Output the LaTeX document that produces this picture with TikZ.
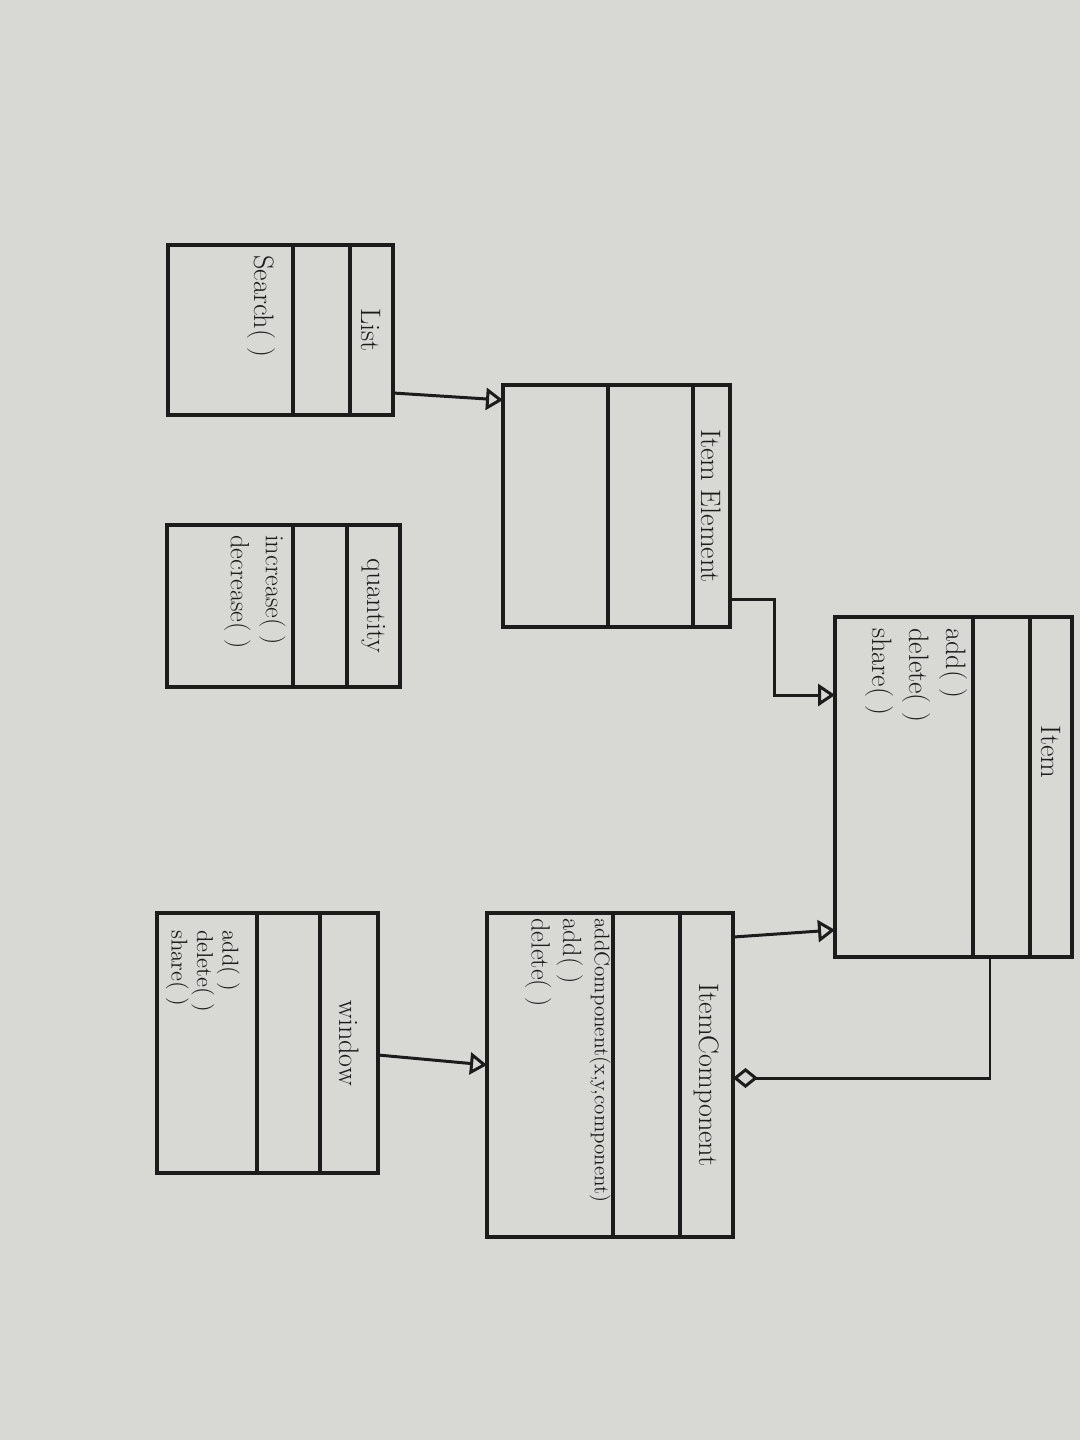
\documentclass[tikz,border=0pt]{standalone}
\usepackage{tikz}
\usetikzlibrary{arrows.meta}
\definecolor{paper}{RGB}{216,216,213}
\definecolor{ink}{RGB}{28,28,28}

\begin{document}
\begin{tikzpicture}[x=0.02cm, y=-0.02cm, color=ink,
  classbox/.style={rectangle, draw=ink, line width=1.8pt, inner sep=0pt, outer sep=0pt},
  title/.style={rotate=-90, text=ink, inner sep=0pt, font=\fontsize{16}{18}\selectfont},
  ops/.style={rotate=-90, text=ink, anchor=north west, align=left, inner sep=0pt, font=\fontsize{16}{21}\selectfont},
  gen/.style={-{Triangle[open, length=0.34cm, width=0.44cm]}, line width=1.7pt},
  agg/.style={{Diamond[open, length=0.5cm, width=0.4cm]}-, line width=1.7pt}]

	\fill[paper] (0,0) rectangle (1080,1440);
	\useasboundingbox (0,0) rectangle (1080,1440);

	% class boxes
	\node[classbox, minimum width=4.5cm, minimum height=3.4cm](List) at (280.5,330) {};
	\node[classbox, minimum width=4.66cm, minimum height=3.24cm](Quantity) at (283.5,606) {};
	\node[classbox, minimum width=4.54cm, minimum height=4.84cm](ItemElement) at (616.5,506) {};
	\node[classbox, minimum width=4.74cm, minimum height=6.8cm](Item) at (953.5,787) {};
	\node[classbox, minimum width=4.92cm, minimum height=6.48cm](ItemComponent) at (610,1075) {};
	\node[classbox, minimum width=4.42cm, minimum height=5.2cm](Window) at (267.5,1043) {};

	% compartments
	\draw[line width=1.8pt] ([xshift=2.5cm]List.north west) -- ([xshift=2.5cm]List.south west);
	\draw[line width=1.8pt] ([xshift=-0.86cm]List.north east) -- ([xshift=-0.86cm]List.south east);

	\draw[line width=1.8pt] ([xshift=2.52cm]Quantity.north west) -- ([xshift=2.52cm]Quantity.south west);
	\draw[line width=1.8pt] ([xshift=-1.06cm]Quantity.north east) -- ([xshift=-1.06cm]Quantity.south east);

	\draw[line width=1.8pt] ([xshift=2.1cm]ItemElement.north west) -- ([xshift=2.1cm]ItemElement.south west);
	\draw[line width=1.8pt] ([xshift=-0.74cm]ItemElement.north east) -- ([xshift=-0.74cm]ItemElement.south east);

	\draw[line width=1.8pt] ([xshift=2.76cm]Item.north west) -- ([xshift=2.76cm]Item.south west);
	\draw[line width=1.8pt] ([xshift=-0.84cm]Item.north east) -- ([xshift=-0.84cm]Item.south east);

	\draw[line width=1.8pt] ([xshift=2.52cm]ItemComponent.north west) -- ([xshift=2.52cm]ItemComponent.south west);
	\draw[line width=1.8pt] ([xshift=-1.06cm]ItemComponent.north east) -- ([xshift=-1.06cm]ItemComponent.south east);

	\draw[line width=1.8pt] ([xshift=2.0cm]Window.north west) -- ([xshift=2.0cm]Window.south west);
	\draw[line width=1.8pt] ([xshift=-1.16cm]Window.north east) -- ([xshift=-1.16cm]Window.south east);

	% class names
	\node[title](List-t) at ([xshift=-0.43cm]List.east) {List};
	\node[title](Quantity-t) at ([xshift=-0.53cm]Quantity.east) {quantity};
	\node[title](ItemElement-t) at ([xshift=-0.37cm]ItemElement.east) {Item Element};
	\node[title](Item-t) at ([xshift=-0.42cm, yshift=0.7cm]Item.east) {Item};
	\node[title](ItemComponent-t) at ([xshift=-0.53cm]ItemComponent.east) {ItemComponent};
	\node[title](Window-t) at ([xshift=-0.58cm]Window.east) {window};

	% operations
	\node[ops](List-m) at ([xshift=2.16cm, yshift=-0.2cm]List.north west) {Search( )};
	\node[ops, font=\fontsize{15}{20}\selectfont](Quantity-m) at ([xshift=2.38cm, yshift=-0.2cm]Quantity.north west) {increase( )\\decrease( )};
	\node[ops](Item-m) at ([xshift=2.66cm, yshift=-0.22cm]Item.north west) {add( )\\delete( )\\share( )};
	\node[ops, font=\fontsize{15}{18}\selectfont](ItemComponent-m) at ([xshift=2.48cm, yshift=-0.1cm]ItemComponent.north west) {{\fontsize{12}{18}\selectfont addComponent(x,y,component)}\\add( )\\delete( )};
	\node[ops, font=\fontsize{13}{14.5}\selectfont](Window-m) at ([xshift=1.66cm, yshift=-0.34cm]Window.north west) {add( )\\delete( )\\share( )};

	% relations
	\draw[gen] ([yshift=-1.26cm]List.east) -- ([yshift=2.12cm]ItemElement.west);
	\draw[gen] ([yshift=-1.88cm]ItemElement.east) -- ++(0.9cm,0) |- ([yshift=1.84cm]Item.west);
	\draw[gen] ([yshift=2.76cm]ItemComponent.east) -- ([yshift=-2.86cm]Item.west);
	\draw[gen] ([yshift=-0.24cm]Window.east) -- ([yshift=0.2cm]ItemComponent.west);
	\draw[agg] ([yshift=-0.06cm]ItemComponent.east) -| ([xshift=0.73cm]Item.south);
\end{tikzpicture}
\end{document}
